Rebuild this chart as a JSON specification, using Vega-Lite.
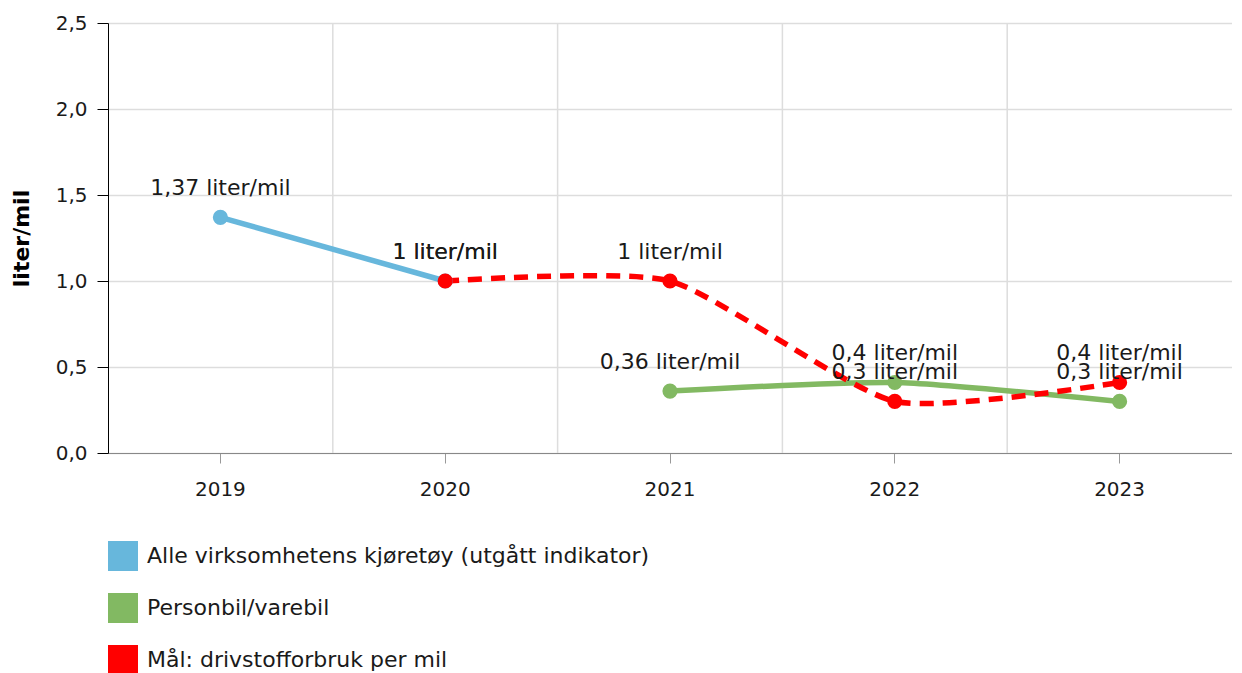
{
  "$schema": "https://vega.github.io/schema/vega-lite/v6.json",
  "width": 1124,
  "height": 430,
  "padding": {"left": 10, "top": 13, "right": 0, "bottom": 0},
  "background": "white",
  "config": {
    "font": "DejaVu Sans",
    "view": {"stroke": null}
  },
  "data": {
    "values": [
      {"series": "Alle virksomhetens kjøretøy (utgått indikator)", "year": "2019", "value": 1.37, "label": "1,37 liter/mil"},
      {"series": "Alle virksomhetens kjøretøy (utgått indikator)", "year": "2020", "value": 1.0, "label": "1 liter/mil"},
      {"series": "Personbil/varebil", "year": "2021", "value": 0.36, "label": "0,36 liter/mil"},
      {"series": "Personbil/varebil", "year": "2022", "value": 0.41, "label": "0,4 liter/mil"},
      {"series": "Personbil/varebil", "year": "2023", "value": 0.3, "label": "0,3 liter/mil"},
      {"series": "Mål: drivstofforbruk per mil", "year": "2020", "value": 1.0, "label": "1 liter/mil"},
      {"series": "Mål: drivstofforbruk per mil", "year": "2021", "value": 1.0, "label": "1 liter/mil"},
      {"series": "Mål: drivstofforbruk per mil", "year": "2022", "value": 0.3, "label": "0,3 liter/mil"},
      {"series": "Mål: drivstofforbruk per mil", "year": "2023", "value": 0.41, "label": "0,4 liter/mil"}
    ]
  },
  "encoding": {
    "x": {
      "field": "year", "type": "ordinal",
      "scale": {"type": "band", "domain": ["2019", "2020", "2021", "2022", "2023"], "paddingInner": 0, "paddingOuter": 0},
      "axis": {
        "title": null, "labelAngle": 0, "grid": false,
        "domainColor": "#888888", "tickColor": "#999999", "tickSize": 10,
        "labelFontSize": 20, "labelColor": "#1a1a1a", "labelPadding": 16
      }
    },
    "y": {
      "field": "value", "type": "quantitative",
      "scale": {"domain": [0, 2.5], "nice": false, "zero": true},
      "axis": {
        "title": "liter/mil", "titleFontSize": 22, "titleFontWeight": "bold", "titleColor": "#000000", "titlePadding": 22,
        "values": [0, 0.5, 1, 1.5, 2, 2.5],
        "labelExpr": "replace(format(datum.value, '.1f'), '.', ',')",
        "labelFontSize": 20, "labelColor": "#1a1a1a", "labelPadding": 10,
        "domainColor": "#000000", "tickColor": "#000000", "tickSize": 11,
        "gridColor": "#dddddd", "gridWidth": 1.5
      }
    }
  },
  "layer": [
    {
      "mark": {"type": "rule", "color": "#dddddd", "strokeWidth": 1.5},
      "data": {"values": [{"b": "2020"}, {"b": "2021"}, {"b": "2022"}, {"b": "2023"}]},
      "encoding": {
        "x": {"field": "b", "type": "ordinal", "bandPosition": 0},
        "y": null
      }
    },
    {
      "transform": [{"filter": "datum.series === 'Alle virksomhetens kjøretøy (utgått indikator)'"}],
      "mark": {"type": "line", "strokeWidth": 5.5, "color": "#67b7dc"},
      "encoding": {}
    },
    {
      "transform": [{"filter": "datum.series === 'Personbil/varebil'"}],
      "mark": {"type": "line", "strokeWidth": 5.5, "color": "#82b962", "interpolate": "cardinal", "tension": 0.4},
      "encoding": {}
    },
    {
      "transform": [{"filter": "datum.series === 'Mål: drivstofforbruk per mil'"}],
      "mark": {"type": "line", "strokeWidth": 5.5, "color": "#ff0000", "strokeDash": [14, 9], "interpolate": "cardinal", "tension": 0.4},
      "encoding": {}
    },
    {
      "mark": {"type": "point", "filled": true, "opacity": 1, "size": 230},
      "encoding": {
        "color": {
          "field": "series", "type": "nominal",
          "scale": {
            "domain": ["Alle virksomhetens kjøretøy (utgått indikator)", "Personbil/varebil", "Mål: drivstofforbruk per mil"],
            "range": ["#67b7dc", "#82b962", "#ff0000"]
          },
          "legend": {
            "title": null, "orient": "bottom", "offset": 42, "direction": "vertical",
            "symbolType": "square", "symbolSize": 900, "symbolStrokeWidth": 0, "symbolOpacity": 1,
            "labelFontSize": 22, "labelColor": "#1a1a1a", "labelOffset": 9, "rowPadding": 22, "labelLimit": 800
          }
        }
      }
    },
    {
      "mark": {"type": "text", "dy": -29, "fontSize": 22, "color": "#1a1a1a"},
      "encoding": {
        "text": {"field": "label"}
      }
    }
  ]
}
